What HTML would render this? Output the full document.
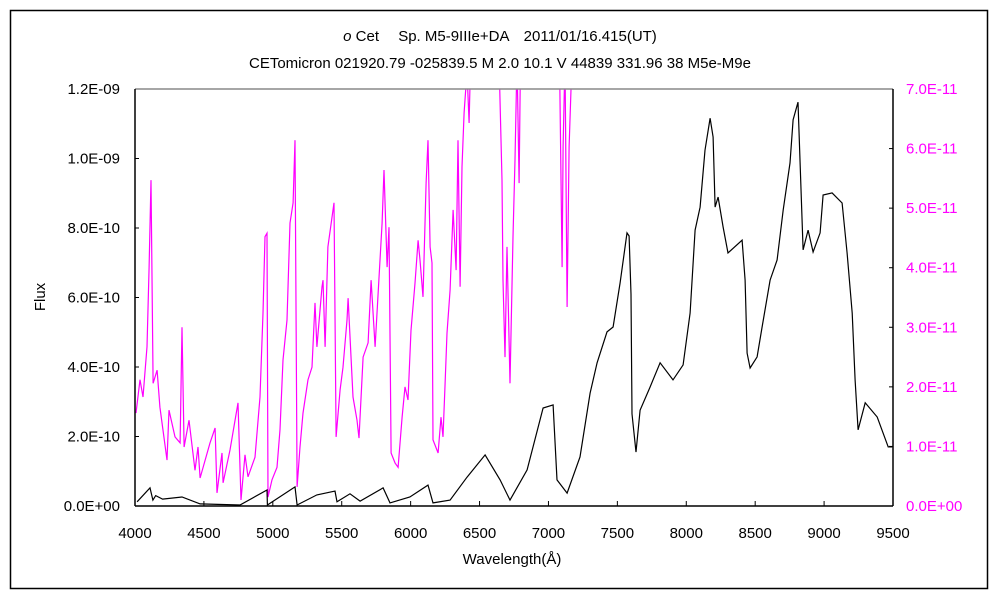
<!DOCTYPE html>
<html><head><meta charset="utf-8"><style>
body{margin:0;background:#fff;}
svg{display:block;font-family:"Liberation Sans","Noto Sans CJK JP",sans-serif;}
</style></head><body>
<svg id="chart" width="1000" height="600" viewBox="0 0 1000 600">
<rect x="10.5" y="10.5" width="977" height="578" fill="#fff" stroke="#000" stroke-width="1.5"/>
<text x="500" y="41" text-anchor="middle" font-size="15"><tspan font-style="italic">ο</tspan> Cet　 Sp. M5-9IIIe+DA　2011/01/16.415(UT)</text>
<text x="500" y="68" text-anchor="middle" font-size="15">CETomicron 021920.79 -025839.5 M 2.0 10.1 V 44839 331.96 38 M5e-M9e</text>
<text transform="translate(45,297) rotate(-90)" text-anchor="middle" font-size="15">Flux</text>
<text x="512" y="564" text-anchor="middle" font-size="15">Wavelength(Å)</text>
<defs><clipPath id="plotclip"><rect x="135" y="89" width="758" height="417"/></clipPath></defs>
<g id="axes"></g>
<g id="series" clip-path="url(#plotclip)"></g>
<line x1="135" y1="89" x2="893" y2="89" stroke="#888" stroke-width="1.5"/>
<line x1="135" y1="89" x2="135" y2="506" stroke="#000" stroke-width="1.5"/>
<line x1="893" y1="89" x2="893" y2="506" stroke="#000" stroke-width="1.5"/>
<line x1="135" y1="506" x2="893" y2="506" stroke="#000" stroke-width="1.5"/>
</svg>
<script>
const xTicks=[4000,4500,5000,5500,6000,6500,7000,7500,8000,8500,9000,9500];
const leftTicks=[0,2e-10,4e-10,6e-10,8e-10,1e-9,1.2e-9];
const leftLabels=["0.0E+00","2.0E-10","4.0E-10","6.0E-10","8.0E-10","1.0E-09","1.2E-09"];
const rightTicks=[0,1e-11,2e-11,3e-11,4e-11,5e-11,6e-11,7e-11];
const rightLabels=["0.0E+00","1.0E-11","2.0E-11","3.0E-11","4.0E-11","5.0E-11","6.0E-11","7.0E-11"];
// black series (left axis, units 1e-10)
const blackWl=[4015,4109,4130,4150,4200,4341,4472,4762,4958,4961,5161,5176,5320,5451,5466,5560,5633,5800,5850,5995,6126,6162,6286,6409,6540,6649,6721,6845,6961,7034,7062,7135,7229,7302,7353,7425,7469,7520,7570,7585,7599,7606,7635,7665,7737,7810,7904,7977,8028,8064,8100,8136,8173,8195,8209,8231,8267,8303,8405,8427,8441,8463,8514,8550,8608,8659,8703,8753,8775,8811,8826,8848,8884,8920,8971,8993,9058,9131,9167,9204,9225,9247,9298,9385,9465,9495];
const blackFlux=[0.12,0.52,0.17,0.3,0.2,0.26,0.06,0.03,0.46,0.03,0.55,0.03,0.32,0.43,0.12,0.35,0.14,0.52,0.09,0.26,0.6,0.09,0.17,0.83,1.47,0.75,0.17,1.04,2.82,2.91,0.75,0.37,1.41,3.25,4.12,5.01,5.15,6.42,7.86,7.77,6.1,2.65,1.55,2.76,3.42,4.12,3.63,4.06,5.55,7.94,8.6,10.24,11.16,10.62,8.6,8.89,8.03,7.28,7.65,6.5,4.4,3.97,4.29,5.15,6.5,7.08,8.52,9.87,11.11,11.62,9.87,7.37,7.94,7.31,7.86,8.95,9.01,8.72,7.28,5.55,3.63,2.19,2.97,2.56,1.7,1.7];
// magenta series (right axis, units 1e-11)
const magWl=[4007,4036,4058,4087,4102,4116,4131,4160,4181,4232,4247,4290,4327,4341,4356,4392,4435,4457,4472,4544,4581,4595,4631,4639,4689,4747,4769,4798,4820,4871,4907,4929,4943,4958,4965,4994,5030,5052,5074,5103,5125,5147,5161,5176,5197,5219,5255,5284,5306,5320,5357,5364,5379,5400,5444,5459,5488,5509,5538,5546,5582,5611,5625,5655,5691,5713,5742,5793,5807,5829,5843,5858,5887,5909,5938,5959,5981,6003,6032,6054,6068,6090,6112,6126,6141,6155,6162,6199,6220,6235,6250,6264,6286,6308,6330,6344,6359,6373,6388,6409,6424,6440,6550,6641,6663,6670,6685,6699,6721,6743,6757,6772,6787,6797,6900,7062,7080,7099,7106,7120,7135,7150,7171,7185];
const magFlux=[1.56,2.12,1.83,2.67,4.01,5.47,2.06,2.28,1.66,0.77,1.61,1.16,1.06,3.0,0.99,1.44,0.6,0.99,0.47,1.06,1.31,0.22,0.89,0.39,0.94,1.73,0.1,0.86,0.49,0.82,1.83,3.24,4.52,4.58,0.15,0.44,0.65,1.28,2.45,3.12,4.75,5.09,6.14,0.32,0.99,1.56,2.12,2.33,3.41,2.67,3.68,3.79,2.67,4.35,5.09,1.16,1.95,2.33,3.12,3.49,1.83,1.44,1.14,2.5,2.74,3.79,2.67,4.75,5.64,4.01,4.68,0.89,0.72,0.65,1.49,2.0,1.78,2.95,3.74,4.46,4.13,3.51,5.42,6.14,4.35,4.08,1.11,0.89,1.49,1.16,2.06,2.9,3.63,4.97,3.96,6.14,3.68,5.69,6.6,7.3,6.43,8,8,7.5,5.47,3.79,2.5,4.35,2.06,4.52,5.81,7.5,5.42,7.5,8,8,7.5,4.01,6.03,7.5,3.34,6.03,7.5,8];

const X0=135,X1=893,Y0=506,Y1=89;
function xs(w){return X0+(w-4000)/5500*(X1-X0);}
function yl(v){return Y0-v/1.2e-9*(Y0-Y1);}
function yr(v){return Y0-v/7e-11*(Y0-Y1);}
const NS="http://www.w3.org/2000/svg";
const axes=document.getElementById('axes');
const ser=document.getElementById('series');
function mk(tag,attrs,parent){const e=document.createElementNS(NS,tag);for(const k in attrs)e.setAttribute(k,attrs[k]);parent.appendChild(e);return e;}
xTicks.forEach(t=>{
  const x=xs(t);
  const l=mk('line',{x1:x,y1:Y0,x2:x,y2:Y0-5,stroke:'#000'},axes);
  
  
  const tx=mk('text',{x:x,y:538,'text-anchor':'middle','font-size':15},axes);
  
  
  tx.textContent=t;
});
leftTicks.forEach((t,i)=>{
  const y=yl(t);
  const l=mk('line',{x1:X0,y1:y,x2:X0+4,y2:y,stroke:'#000'},axes);
  
  
  const tx=mk('text',{x:120,y:y+5,'text-anchor':'end','font-size':15},axes);
  
  
  tx.textContent=leftLabels[i];
});
rightTicks.forEach((t,i)=>{
  const y=yr(t);
  const l=mk('line',{x1:X1,y1:y,x2:X1-4,y2:y,stroke:'#000'},axes);
  
  
  const tx=mk('text',{x:906,y:y+5,'text-anchor':'start','font-size':15,fill:'#ff00ff'},axes);
  
  
  tx.textContent=rightLabels[i];
});
const mp=magWl.map((w,i)=>xs(w).toFixed(1)+','+yr(magFlux[i]*1e-11).toFixed(1)).join(' ');
const m=mk('polyline',{points:mp,fill:'none',stroke:'#ff00ff','stroke-width':1.2},ser);


const bp=blackWl.map((w,i)=>xs(w).toFixed(1)+','+yl(blackFlux[i]*1e-10).toFixed(1)).join(' ');
const b=mk('polyline',{points:bp,fill:'none',stroke:'#000','stroke-width':1.2},ser);


</script>
</body></html>
